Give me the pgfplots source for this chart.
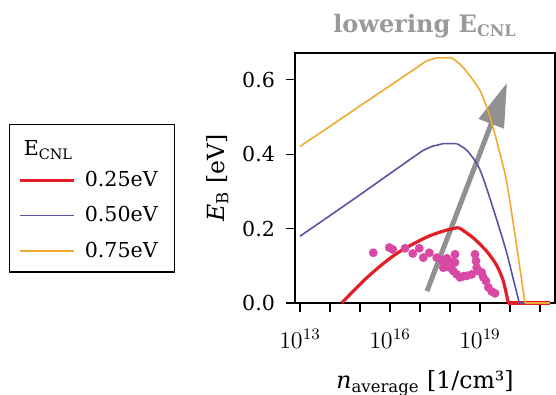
\documentclass[border=0pt]{standalone}
\usepackage{fontspec}
\setmainfont{DejaVu Serif}
\usepackage{pgfplots}
\pgfplotsset{compat=1.18}
\usetikzlibrary{arrows.meta}
\definecolor{cred}{RGB}{228,30,38}
\definecolor{cpurple}{RGB}{94,80,160}
\definecolor{corange}{RGB}{240,170,50}
\definecolor{cpink}{RGB}{218,72,165}
\definecolor{carrow}{RGB}{145,145,145}
\definecolor{ctitle}{RGB}{153,153,153}
\begin{document}
\begin{tikzpicture}
\path[use as bounding box] (-147.5pt,-46pt) rectangle (130.5pt,151.5pt);
\begin{axis}[
  scale only axis, width=130pt, height=125pt,
  xmin=12.833, xmax=21.5, ymin=0, ymax=0.672,
  xtick={13,14,15,16,17,18,19,20,21},
  xticklabels={$10^{13}$,,,$10^{16}$,,,$10^{19}$,,},
  ytick={0,0.2,0.4,0.6},
  yticklabel style={font=\fontsize{10.3}{12}\selectfont, xshift=-2pt,
    /pgf/number format/fixed, /pgf/number format/fixed zerofill,
    /pgf/number format/precision=1, /pgf/number format/assume math mode=true},
  tick align=outside, xtick pos=bottom, ytick pos=left,
  major tick length=4.5pt, minor tick num=0,
  tick style={black, line width=0.6pt},
  axis line style={line width=0.6pt},
  clip=false,
  xticklabel style={font=\fontsize{11.5}{13}\selectfont, yshift=-5pt},
  xlabel={\textit{n}\textsubscript{average} [1/cm³]},
  ylabel={\textit{E}\textsubscript{B} [eV]},
  label style={font=\fontsize{11.8}{14}\selectfont},
  xlabel style={yshift=-4.5pt},
  title={\bfseries lowering E\textsubscript{CNL}},
  title style={font=\fontsize{12}{14}\selectfont, text=ctitle, yshift=-2pt},
  legend style={at={(axis description cs:-1.1,0.716)}, anchor=north west,
    draw=black, line width=0.6pt, font=\fontsize{10.3}{12}\selectfont,
    cells={anchor=west}, row sep=4.5pt, inner xsep=4.5pt, inner ysep=4pt},
  legend image code/.code={\draw[#1] (0pt,0pt) -- (27pt,0pt); \path (29.5pt,0pt);},
]
\addlegendimage{legend image code/.code={\path (0pt,8pt); \node[anchor=west,inner sep=0pt,text=black] at (1.5pt,0pt) {E\textsubscript{CNL}};}}
\addlegendentry{}
% annotation arrow (drawn first, below the curves)
\addplot[forget plot, draw=carrow, fill=carrow, line width=2.5pt, -{Triangle[length=22pt,width=13pt]}]
  coordinates {(17.233,0.032) (19.9,0.592)};
% x values are log10 of n_average [1/cm^3]
\addplot[draw=cred, line width=1.6pt, smooth, tension=0.45] coordinates {
 (14.39,0) (15.11,0.059) (15.667,0.099) (16.223,0.133) (16.777,0.159)
 (17.333,0.181) (17.89,0.196) (18.29,0.203)};
\addlegendentry{0.25eV\hspace*{2pt}}
\addplot[forget plot, draw=cred, line width=1.6pt, smooth, tension=0.45] coordinates {
 (18.29,0.203) (18.777,0.175) (19.223,0.139) (19.557,0.101) (19.777,0.059) (19.943,0)};
\addplot[forget plot, draw=cred, line width=1.6pt] coordinates {(19.943,0) (21.33,0)};

\addplot[draw=cpurple, line width=0.8pt] coordinates {
 (13,0.1795) (14,0.235) (15,0.291) (16,0.348) (16.777,0.392) (17.1,0.41)
 (17.4,0.421) (17.777,0.4285) (18.223,0.4285)};
\addlegendentry{0.50eV}
\addplot[forget plot, draw=cpurple, line width=0.8pt, smooth, tension=0.45] coordinates {
 (18.223,0.4285) (18.557,0.411) (18.89,0.375) (19.11,0.335) (19.557,0.224)
 (19.89,0.135) (20.11,0.064) (20.31,0)};
\addplot[forget plot, draw=cpurple, line width=0.8pt] coordinates {(20.31,0) (21.33,0)};

\addplot[draw=corange, line width=0.8pt] coordinates {
 (13,0.421) (14,0.475) (15,0.530) (16,0.584) (17.223,0.651)
 (17.557,0.659) (18.057,0.659)};
\addlegendentry{0.75eV}
\addplot[forget plot, draw=corange, line width=0.8pt, smooth, tension=0.45] coordinates {
 (18.057,0.659) (18.443,0.633) (19,0.571) (19.333,0.5) (19.61,0.419)
 (19.867,0.335) (20.05,0.245) (20.223,0.153) (20.5,0)};
\addplot[forget plot, draw=corange, line width=0.8pt] coordinates {(20.5,0) (21.33,0)};

\addplot[forget plot, only marks, color=cpink, mark=*, mark size=2pt,
  mark options={draw=cpink, fill=cpink}] coordinates {
 (15.443,0.135) (15.977,0.149) (16.09,0.144) (16.5,0.147) (16.757,0.133)
 (16.977,0.147) (17.11,0.122) (17.31,0.135) (17.557,0.122) (17.757,0.113)
 (17.867,0.117) (17.943,0.104) (18.167,0.131) (18.167,0.109) (18.0,0.095)
 (17.777,0.095) (18.11,0.086) (18.223,0.077) (18.333,0.069) (18.557,0.073)
 (18.723,0.077) (18.833,0.131) (18.867,0.113) (18.89,0.095) (18.943,0.086)
 (19.057,0.082) (19.11,0.069) (19.2,0.059) (19.277,0.042) (19.39,0.031)
 (19.5,0.026) (18.45,0.072) (17.9,0.12) (18.05,0.11)};
\end{axis}
\end{tikzpicture}
\end{document}
